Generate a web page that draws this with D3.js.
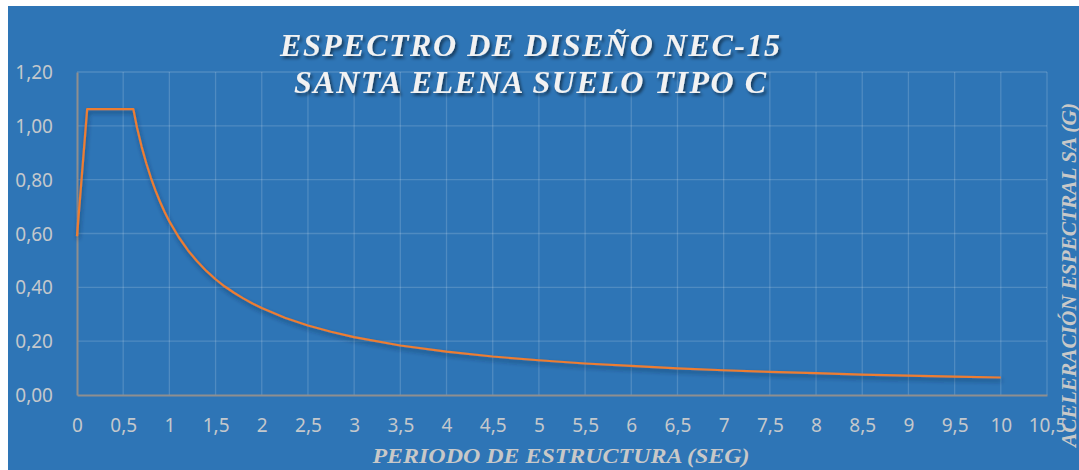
<!DOCTYPE html>
<html><head><meta charset="utf-8">
<script src="https://cdn.jsdelivr.net/npm/d3@7"></script>
<style>
html,body{margin:0;padding:0;background:#fff;}
svg{display:block;}
</style></head>
<body>
<svg id="chart" width="1079" height="470"></svg>
<script>
// Data
const periods = [0, 0.11, 0.61, 0.65, 0.7, 0.75, 0.8, 0.85, 0.9, 0.95, 1.0, 1.1, 1.2, 1.3, 1.4, 1.5, 1.6, 1.7, 1.8, 1.9, 2.0, 2.25, 2.5, 2.75, 3.0, 3.5, 4.0, 4.5, 5.0, 5.5, 6.0, 6.5, 7.0, 7.5, 8.0, 8.5, 9.0, 9.5, 10.0];
const saValues = [0.59, 1.062, 1.062, 0.993, 0.922, 0.861, 0.807, 0.759, 0.717, 0.679, 0.645, 0.587, 0.538, 0.497, 0.461, 0.430, 0.403, 0.380, 0.359, 0.340, 0.323, 0.287, 0.258, 0.235, 0.215, 0.184, 0.161, 0.143, 0.129, 0.117, 0.108, 0.099, 0.092, 0.086, 0.081, 0.076, 0.072, 0.068, 0.065];
const xTicks = [0,0.5,1,1.5,2,2.5,3,3.5,4,4.5,5,5.5,6,6.5,7,7.5,8,8.5,9,9.5,10,10.5];
const yTicks = [0,0.2,0.4,0.6,0.8,1.0,1.2];
const titleLines = ["ESPECTRO DE DISEÑO NEC-15", "SANTA ELENA SUELO TIPO C"];
const xTitle = "PERIODO DE ESTRUCTURA (SEG)";
const yTitle = "ACELERACIÓN ESPECTRAL SA (G)";

const svg = d3.select("#chart");
const defs = svg.append("defs");
const f1 = defs.append("filter").attr("id","tshadow").attr("x","-10%").attr("y","-30%").attr("width","120%").attr("height","170%");
f1.append("feDropShadow").attr("dx",2).attr("dy",2.5).attr("stdDeviation",1.5).attr("flood-color","#000").attr("flood-opacity",0.5);
const f2 = defs.append("filter").attr("id","lshadow").attr("x","-5%").attr("y","-20%").attr("width","110%").attr("height","150%");
f2.append("feDropShadow").attr("dx",1).attr("dy",3).attr("stdDeviation",2.2).attr("flood-color","#0b2a4a").attr("flood-opacity",0.55);

// background
svg.append("rect").attr("x",8).attr("y",6).attr("width",1071).attr("height",464).attr("fill","#2E75B6");

const x = d3.scaleLinear().domain([0,10.5]).range([77,1047]);
const y = d3.scaleLinear().domain([0,1.2]).range([395,72]);

// gridlines
const grid = svg.append("g");
grid.selectAll("line.v").data(xTicks.slice(1)).enter().append("line")
  .attr("x1",d=>x(d)).attr("x2",d=>x(d)).attr("y1",y(0)).attr("y2",y(1.2))
  .attr("stroke","rgba(255,255,255,0.16)").attr("stroke-width",1.3);
grid.selectAll("line.h").data(yTicks.slice(1)).enter().append("line")
  .attr("x1",x(0)).attr("x2",x(10.5)).attr("y1",d=>y(d)).attr("y2",d=>y(d))
  .attr("stroke","rgba(255,255,255,0.16)").attr("stroke-width",1.3);

// axes
const fmtX = d => String(d).replace(".",",");
const fmtY = d => d3.format(".2f")(d).replace(".",",");
const xAxis = svg.append("g").attr("transform",`translate(0,${y(0)})`)
  .call(d3.axisBottom(x).tickValues(xTicks).tickFormat(fmtX).tickSize(0).tickPadding(24));
const yAxis = svg.append("g").attr("transform",`translate(${x(0)},0)`)
  .call(d3.axisLeft(y).tickValues(yTicks).tickFormat(fmtY).tickSize(0).tickPadding(24));
[xAxis,yAxis].forEach(a=>{
  a.select(".domain").attr("stroke","#8f8f8f").attr("stroke-width",2);
  a.selectAll("text").attr("fill","#c4c8cc").attr("font-family","'Noto Sans', sans-serif").attr("font-size",19);
});
yAxis.selectAll("text").attr("dy","0.35em");

// line
const line = d3.line().x((d,i)=>x(periods[i])).y(d=>y(d));
svg.append("path").datum(saValues).attr("d",line).attr("fill","none")
  .attr("stroke","#ED7D31").attr("stroke-width",2.2).attr("stroke-linejoin","round")
  .attr("filter","url(#lshadow)");

// title
const tg = svg.append("g").attr("filter","url(#tshadow)");
const tw = [500, 472];
titleLines.forEach((t,i)=>{
  tg.append("text").attr("x",530).attr("y",56+i*37).attr("text-anchor","middle")
    .attr("font-family","'Liberation Serif', serif").attr("font-style","italic").attr("font-weight","bold")
    .attr("font-size",32).attr("fill","#f2f2f2")
    .attr("textLength",tw[i]).attr("lengthAdjust","spacing").text(t);
});

// axis titles
svg.append("text").attr("x",561).attr("y",463).attr("text-anchor","middle")
  .attr("font-family","'Liberation Serif', serif").attr("font-style","italic").attr("font-weight","bold")
  .attr("font-size",21).attr("fill","#c8c8c8").attr("textLength",377).attr("lengthAdjust","spacingAndGlyphs").text(xTitle);
svg.append("text").attr("transform","translate(1076,275) rotate(-90)").attr("text-anchor","middle")
  .attr("font-family","'Liberation Serif', serif").attr("font-style","italic").attr("font-weight","bold")
  .attr("font-size",20).attr("fill","#c8c8c8").attr("textLength",344).attr("lengthAdjust","spacingAndGlyphs").text(yTitle);
</script>
</body></html>
